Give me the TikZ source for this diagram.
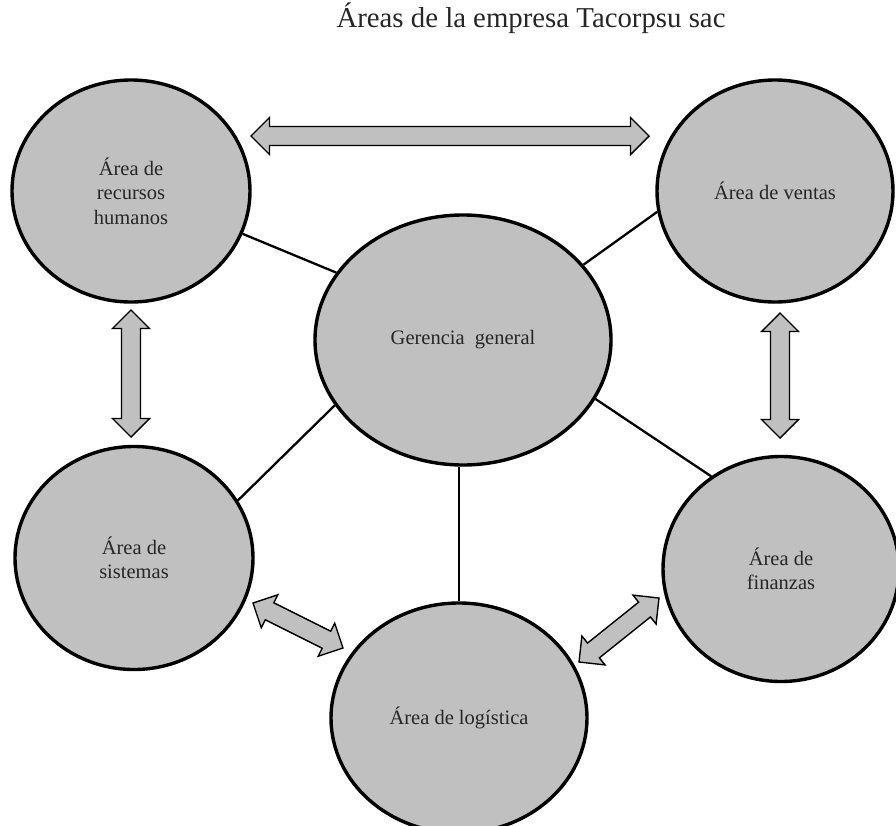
\documentclass[tikz,border=0pt]{standalone}
\usepackage{fontspec}
\setmainfont{Liberation Serif}
\usetikzlibrary{shapes.geometric,calc}
\definecolor{areagray}{RGB}{192,192,192}
\tikzset{
  barrowshape/.style={draw=black, line width=1.4pt, fill=areagray, line join=miter},
  pics/barrow/.style={code={
    \path[barrowshape] (0,0) -- (18.5,18.5) -- (18.5,9.5) -- (#1-18.5,9.5) -- (#1-18.5,18.5) -- (#1,0)
      -- (#1-18.5,-18.5) -- (#1-18.5,-9.5) -- (18.5,-9.5) -- (18.5,-18.5) -- cycle;
  }}
}
\newcommand\blockarrow[2]{\path let \p1=($(#2)-(#1)$), \n1={atan2(\y1,\x1)}, \n2={veclen(\x1,\y1)} in (#1) pic[rotate=\n1] {barrow=\n2};}
\begin{document}
\begin{tikzpicture}[x=1pt,y=-1pt,
  area/.style={ellipse, draw=black, line width=3.4pt, fill=areagray, inner sep=0pt, align=center, text=black!85, font=\fontsize{20.5}{24.5}\selectfont},
  link/.style={draw=black, line width=2.3pt}]
\useasboundingbox (0,0) rectangle (896,825);
\fill[white] (0,0) rectangle (896,825);
\node[font=\fontsize{28.8}{33}\selectfont, anchor=base, text=black!85] (title) at (531,27) {Áreas de la empresa Tacorpsu sac};
\node[area, minimum width=238pt, minimum height=222pt] (rrhh) at (131,191) {Área de\\recursos\\humanos};
\node[area, minimum width=236pt, minimum height=222pt] (ventas) at (775,191) {Área de ventas};
\node[area, minimum width=296pt, minimum height=250pt] (ger) at (463,340) {Gerencia\ \ general};
\node[area, minimum width=238pt, minimum height=223pt] (sis) at (134,558) {Área de\\sistemas};
\node[area, minimum width=236pt, minimum height=225pt] (fin) at (781,569) {Área de\\finanzas};
\node[area, minimum width=256pt, minimum height=230pt] (log) at (459,718) {Área de logística};
\draw[link] (rrhh.-21) -- (ger.152);
\draw[link] (ventas.190) -- (ger.32);
\draw[link] (sis.29) -- (ger.207);
\draw[link] (fin.127) -- (ger.-24);
\draw[link] (ger.south -| log.north) -- (log.north);
\coordinate (tl) at (251,136);
\coordinate (tr) at (649,136);
\coordinate (lt) at (131,310);
\coordinate (lb) at (131,437);
\coordinate (rt) at (780,313);
\coordinate (rb) at (780,438);
\coordinate (s1) at (253,603);
\coordinate (s2) at (343,648);
\coordinate (f1) at (579,662);
\coordinate (f2) at (659,598);
\blockarrow{tl}{tr}
\blockarrow{lt}{lb}
\blockarrow{rt}{rb}
\blockarrow{s1}{s2}
\blockarrow{f1}{f2}
\end{tikzpicture}
\end{document}
